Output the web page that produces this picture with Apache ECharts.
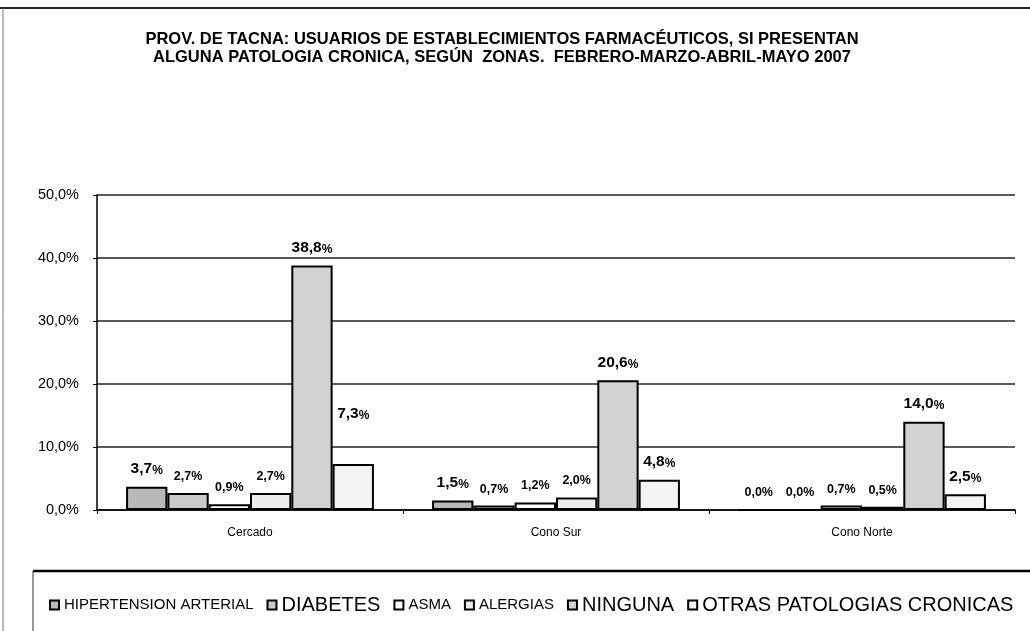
<!DOCTYPE html>
<html>
<head>
<meta charset="utf-8">
<script src="https://cdn.jsdelivr.net/npm/echarts@6/dist/echarts.min.js"></script>
<style>
  html, body { margin: 0; padding: 0; background: #fff; }
  #chart { width: 1030px; height: 631px; }
</style>
</head>
<body>
<div id="chart"></div>
<script>
// zonas
const zonas = ['Cercado', 'Cono Sur', 'Cono Norte'];

// porcentajes por patologia
const hipertension = [3.7, 1.5, 0.0];
const diabetes = [2.7, 0.7, 0.0];
const asma = [0.9, 1.2, 0.7];
const alergias = [2.7, 2.0, 0.5];
const ninguna = [38.8, 20.6, 14.0];
const otras = [7.3, 4.8, 2.5];

const yTicks = [0, 10, 20, 30, 40, 50];

const nombres = ['HIPERTENSION ARTERIAL', 'DIABETES', 'ASMA', 'ALERGIAS', 'NINGUNA', 'OTRAS PATOLOGIAS CRONICAS'];
const valores = [hipertension, diabetes, asma, alergias, ninguna, otras];
const rellenos = ['#b9b9b9', '#c9c9c9', '#ffffff', '#ececec', '#d2d2d2', '#f3f3f3'];
const grandes = [true, false, false, false, true, true]; // etiquetas en negrita grande
const leyendaGrande = ['DIABETES', 'NINGUNA', 'OTRAS PATOLOGIAS CRONICAS'];

const fuente = "'Liberation Sans', Arial, sans-serif";
const pct = v => v.toFixed(1).replace('.', ',');

const chart = echarts.init(document.getElementById('chart'));

const series = nombres.map((nombre, i) => ({
  name: nombre,
  type: 'bar',
  barGap: 0,
  barCategoryGap: '19%',
  itemStyle: { color: rellenos[i], borderColor: '#000', borderWidth: 2 },
  data: valores[i].map((v, j) => {
    const item = { value: v };
    // etiquetas que en el original van en otro tamaño o posición
    if (i === 0 && v === 0) item.label = { formatter: p => '{s|' + pct(p.value) + '%}' };
    if (i === 5 && j === 0) item.label = { offset: [0, -32] };
    return item;
  }),
  label: {
    show: true,
    position: 'top',
    distance: 10,
    formatter: grandes[i]
      ? p => '{n|' + pct(p.value) + '}{p|%}'
      : p => '{s|' + pct(p.value) + '%}',
    rich: {
      n: { fontFamily: fuente, fontSize: 15.5, fontWeight: 'bold', color: '#000' },
      p: { fontFamily: fuente, fontSize: 12, fontWeight: 'bold', color: '#000', verticalAlign: 'bottom' },
      s: { fontFamily: fuente, fontSize: 12.5, fontWeight: 'bold', color: '#000' }
    }
  }
}));

chart.setOption({
  animation: false,
  backgroundColor: '#fff',
  title: {
    text: 'PROV. DE TACNA: USUARIOS DE ESTABLECIMIENTOS FARMACÉUTICOS, SI PRESENTAN\nALGUNA PATOLOGIA CRONICA, SEGÚN  ZONAS.  FEBRERO-MARZO-ABRIL-MAYO 2007',
    left: 497,
    textAlign: 'center',
    top: 25,
    textStyle: { fontFamily: fuente, fontSize: 16.5, fontWeight: 'bold', color: '#000', lineHeight: 18 }
  },
  grid: { left: 97, right: 15, top: 195, bottom: 121 },
  xAxis: {
    type: 'category',
    data: zonas,
    axisLine: { lineStyle: { color: '#000', width: 1.5 } },
    axisTick: { show: true, length: 4, lineStyle: { color: '#000' } },
    axisLabel: { fontFamily: fuente, fontSize: 12, color: '#000', margin: 17 }
  },
  yAxis: {
    type: 'value',
    min: yTicks[0],
    max: yTicks[yTicks.length - 1],
    interval: 10,
    axisLine: { show: true, lineStyle: { color: '#000', width: 1.5 } },
    axisTick: { show: true, length: 4, lineStyle: { color: '#000' } },
    axisLabel: { fontFamily: fuente, fontSize: 14.5, color: '#000', margin: 18, formatter: v => pct(v) + '%' },
    splitLine: { lineStyle: { color: '#222', width: 1.5 } }
  },
  legend: {
    left: 44,
    top: 590,
    width: 985,
    itemWidth: 9,
    itemHeight: 9,
    itemGap: 13,
    icon: 'rect',
    itemStyle: { borderColor: '#000', borderWidth: 2 },
    formatter: n => (leyendaGrande.includes(n) ? '{g|' + n + '}' : '{c|' + n + '}'),
    textStyle: {
      color: '#000',
      rich: {
        g: { fontFamily: fuente, fontSize: 20, color: '#000' },
        c: { fontFamily: fuente, fontSize: 15, color: '#000' }
      }
    }
  },
  graphic: [
    { type: 'line', shape: { x1: 0, y1: 8, x2: 1030, y2: 8 }, style: { stroke: '#222', lineWidth: 2 } },
    { type: 'line', shape: { x1: 3, y1: 8, x2: 3, y2: 631 }, style: { stroke: '#777', lineWidth: 1 } },
    { type: 'line', shape: { x1: 33, y1: 571, x2: 1030, y2: 571 }, style: { stroke: '#000', lineWidth: 2.5 } },
    { type: 'line', shape: { x1: 33, y1: 571, x2: 33, y2: 631 }, style: { stroke: '#333', lineWidth: 1 } }
  ],
  series: series
});
</script>
</body>
</html>
